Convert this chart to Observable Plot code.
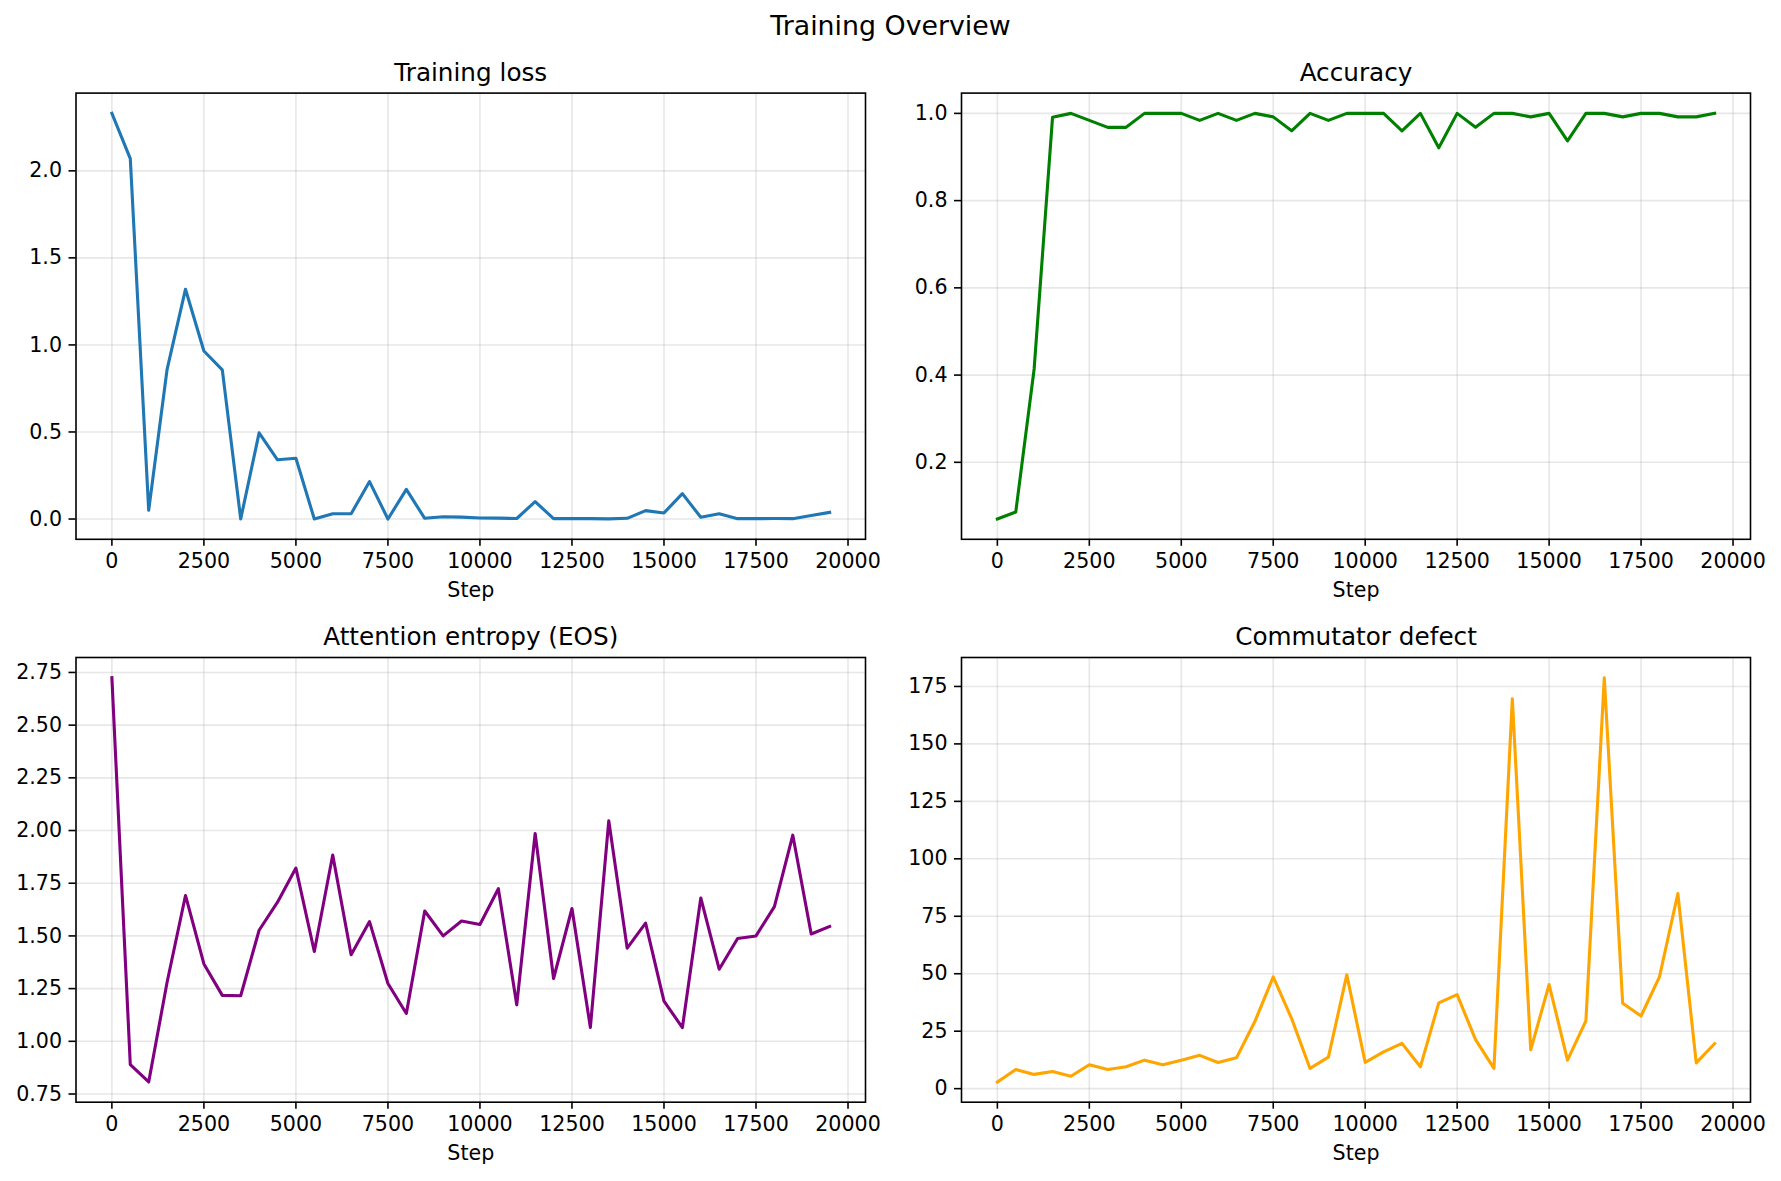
<!DOCTYPE html>
<html>
<head>
<meta charset="utf-8">
<script src="https://cdn.jsdelivr.net/npm/d3@7"></script>
<script src="https://cdn.jsdelivr.net/npm/@observablehq/plot@0.6"></script>
<style>
  html, body { margin: 0; padding: 0; background: #fff; }
  #fig { position: relative; width: 1781px; height: 1181px; background: #fff; font-family: "DejaVu Sans", sans-serif; }
  #suptitle { position: absolute; left: 0; width: 1781px; top: 11px; text-align: center; font-size: 26.8px; line-height: 30px; color: #000; }
  .panel { position: absolute; }
</style>
</head>
<body>
<div id="fig">
  <div id="suptitle">Training Overview</div>
</div>
<script>
const steps = [0, 500, 1000, 1500, 2000, 2500, 3000, 3500, 4000, 4500, 5000, 5500, 6000, 6500, 7000, 7500, 8000, 8500, 9000, 9500,
  10000, 10500, 11000, 11500, 12000, 12500, 13000, 13500, 14000, 14500, 15000, 15500, 16000, 16500, 17000, 17500, 18000, 18500, 19000, 19500];

const trainingLoss = [2.33, 2.07, 0.05, 0.86, 1.32, 0.965, 0.857, 0.0, 0.495, 0.34, 0.349, 0.0, 0.03, 0.03, 0.215, 0.0, 0.17, 0.004, 0.013, 0.011,
  0.006, 0.005, 0.003, 0.10, 0.002, 0.002, 0.002, 0.001, 0.004, 0.048, 0.035, 0.146, 0.01, 0.03, 0.002, 0.002, 0.003, 0.002, 0.02, 0.038];

const accuracy = [0.070, 0.086, 0.414, 0.991, 1.0, 0.984, 0.968, 0.968, 1.0, 1.0, 1.0, 0.984, 1.0, 0.984, 1.0, 0.992, 0.96, 1.0, 0.984, 1.0,
  1.0, 1.0, 0.96, 1.0, 0.921, 1.0, 0.968, 1.0, 1.0, 0.992, 1.0, 0.937, 1.0, 1.0, 0.992, 1.0, 1.0, 0.992, 0.992, 1.0];

const attentionEntropy = [2.725, 0.889, 0.807, 1.28, 1.692, 1.367, 1.218, 1.216, 1.527, 1.66, 1.822, 1.426, 1.884, 1.411, 1.568, 1.274, 1.132, 1.618, 1.5, 1.571,
  1.554, 1.724, 1.173, 1.986, 1.298, 1.63, 1.066, 2.046, 1.442, 1.561, 1.191, 1.065, 1.68, 1.342, 1.488, 1.5, 1.639, 1.978, 1.509, 1.545];

const commutatorDefect = [2.9, 8.3, 6.2, 7.5, 5.4, 10.4, 8.3, 9.5, 12.4, 10.4, 12.4, 14.5, 11.4, 13.4, 29.2, 48.6, 30.5, 8.8, 13.7, 49.5,
  11.4, 16.0, 19.7, 9.5, 37.3, 40.9, 21.3, 8.8, 169.6, 16.9, 45.3, 12.4, 29.5, 178.8, 37.2, 31.6, 48.6, 84.9, 11.2, 19.6];

const xTicks = [0, 2500, 5000, 7500, 10000, 12500, 15000, 17500, 20000];
const lossTicks = [0, 0.5, 1.0, 1.5, 2.0];
const accTicks = [0.2, 0.4, 0.6, 0.8, 1.0];
const entTicks = [0.75, 1.0, 1.25, 1.5, 1.75, 2.0, 2.25, 2.5, 2.75];
const commTicks = [0, 25, 50, 75, 100, 125, 150, 175];

const titles = ["Training loss", "Accuracy", "Attention entropy (EOS)", "Commutator defect"];
const xLabel = "Step";

function padDomain(vals) {
  const lo = d3.min(vals), hi = d3.max(vals), r = hi - lo;
  return [lo - 0.05 * r, hi + 0.05 * r];
}

const xPad = padDomain(steps);

function panel({values, color, title, yTicks, yFormat, left, top, width, height, mL, mR, mT, mB}) {
  const data = steps.map((s, i) => ({step: s, v: values[i]}));
  const chart = Plot.plot({
    width, height,
    marginLeft: mL, marginRight: mR, marginTop: mT, marginBottom: mB,
    style: {fontFamily: "DejaVu Sans, sans-serif", fontSize: "20.6px", color: "#000", background: "transparent", overflow: "visible"},
    x: {domain: xPad, ticks: xTicks, tickFormat: d3.format("d"), label: null, tickSize: 7, tickPadding: 7},
    y: {domain: padDomain(values), ticks: yTicks, tickFormat: d3.format(yFormat), label: null, tickSize: 7, tickPadding: 7},
    marks: [
      Plot.gridX(xTicks, {stroke: "#b0b0b0", strokeOpacity: 0.3, strokeWidth: 1.6}),
      Plot.gridY(yTicks, {stroke: "#b0b0b0", strokeOpacity: 0.3, strokeWidth: 1.6}),
      Plot.line(data, {x: "step", y: "v", stroke: color, strokeWidth: 3.1, strokeLinejoin: "round", strokeLinecap: "square"}),
      Plot.axisX(xTicks, {tickSize: 7, tickPadding: 7, tickFormat: d3.format("d"), strokeWidth: 1.6, label: null, fontSize: 20.6}),
      Plot.axisY(yTicks, {tickSize: 7, tickPadding: 7, tickFormat: d3.format(yFormat), strokeWidth: 1.6, label: null, fontSize: 20.6}),
      Plot.frame({stroke: "#000", strokeWidth: 1.6}),
      Plot.text([title], {frameAnchor: "top", dy: -20, lineAnchor: "middle", fontSize: 24.7, fill: "#000"}),
      Plot.text([xLabel], {frameAnchor: "bottom", dy: 51, lineAnchor: "middle", fontSize: 20.6, fill: "#000"})
    ]
  });
  chart.classList.add("panel");
  chart.style.left = left + "px";
  chart.style.top = top + "px";
  document.getElementById("fig").appendChild(chart);
}

// top row: svg y 40..620, frame 92.6..538.8 ; bottom row: svg y 620..1181, frame 657..1101.7
panel({values: trainingLoss, color: "#1f77b4", title: titles[0], yTicks: lossTicks, yFormat: ".1f",
  left: 0, top: 40, width: 890, height: 580, mL: 75.5, mR: 25, mT: 52.6, mB: 81.2});
panel({values: accuracy, color: "#008000", title: titles[1], yTicks: accTicks, yFormat: ".1f",
  left: 890, top: 40, width: 891, height: 580, mL: 71, mR: 31, mT: 52.6, mB: 81.2});
panel({values: attentionEntropy, color: "#800080", title: titles[2], yTicks: entTicks, yFormat: ".2f",
  left: 0, top: 620, width: 890, height: 561, mL: 75.5, mR: 25, mT: 37, mB: 79.3});
panel({values: commutatorDefect, color: "#ffa500", title: titles[3], yTicks: commTicks, yFormat: "d",
  left: 890, top: 620, width: 891, height: 561, mL: 71, mR: 31, mT: 37, mB: 79.3});
</script>
</body>
</html>
